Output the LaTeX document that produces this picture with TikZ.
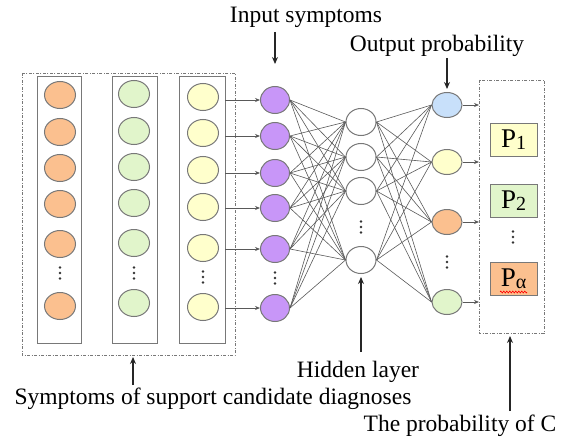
\documentclass[tikz,border=0pt]{standalone}
\usepackage{fontspec}
\setmainfont{Liberation Serif}
\usetikzlibrary{shapes.geometric,arrows.meta,decorations.pathmorphing}
\definecolor{corange}{RGB}{251,192,143}
\definecolor{cgreen}{RGB}{225,245,203}
\definecolor{cyellow}{RGB}{255,255,204}
\definecolor{cpurple}{RGB}{200,150,248}
\definecolor{cblue}{RGB}{200,224,250}
\definecolor{cedge}{RGB}{120,120,120}
\begin{document}
\begin{tikzpicture}[x=1pt,y=-1pt,
  cell/.style={ellipse,draw=cedge,line width=1pt,minimum width=31pt,minimum height=27pt,inner sep=0pt},
  colbox/.style={draw=cedge,line width=1pt,fill=white},
  dashbox/.style={draw=cedge,line width=0.8pt,dash pattern=on 3pt off 1.5pt on 1pt off 1.5pt},
  link/.style={draw=black!65,line width=0.6pt},
  feed/.style={draw=black!65,line width=0.7pt,-{Stealth[length=5pt,width=4pt]}},
  callout/.style={draw=black!85,line width=1.1pt,-{Stealth[length=7pt,width=6pt]}},
  label/.style={font=\fontsize{23.5}{27}\selectfont,inner sep=0pt},
  pbox/.style={draw=cedge,line width=1pt,minimum width=47pt,minimum height=33pt,inner sep=0pt,font=\fontsize{27}{30}\selectfont},
  dot/.style={fill=black!80,circle,inner sep=0pt,minimum size=2.8pt}
]
\useasboundingbox (0,0) rectangle (561,441);

% outer dashed boxes
\draw[dashbox] (22,73) rectangle (235,355);
\draw[dashbox] (479,80) rectangle (544,333);

% column boxes
\draw[colbox] (37,77) rectangle (81,343);
\draw[colbox] (112,77) rectangle (157,343);
\draw[colbox] (179,77) rectangle (225,343);

% column 1 (orange)
\foreach \y [count=\i] in {95,132,168,204,244,306}
  \node[cell,fill=corange] (a\i) at (60,\y) {};
% column 2 (green)
\foreach \y [count=\i] in {94,131,167,203,243,303}
  \node[cell,fill=cgreen] (b\i) at (134,\y) {};
% column 3 (yellow)
\foreach \y [count=\i] in {97,133,170,207,248,307}
  \node[cell,fill=cyellow] (c\i) at (203,\y) {};

% input layer (purple)
\foreach \y [count=\i] in {100,136,173,208,249,308}
  \node[cell,fill=cpurple,minimum width=29pt] (p\i) at (275,\y) {};
% hidden layer
\foreach \y [count=\i] in {122,157,191,260}
  \node[cell,fill=white,minimum width=30pt] (h\i) at (361,\y) {};
% output layer
\node[cell,fill=cblue,minimum width=30pt,minimum height=25pt] (o1) at (447,105) {};
\node[cell,fill=cyellow,minimum width=30pt,minimum height=25pt] (o2) at (447,162) {};
\node[cell,fill=corange,minimum width=30pt,minimum height=25pt] (o3) at (447,222) {};
\node[cell,fill=cgreen,minimum width=30pt,minimum height=25pt] (o4) at (447,302) {};

% dots
\foreach \x/\y in {60/273,134/273,203/277,275/278,361/227,447/262,513/237}{
  \node[dot] at (\x,\y-5.5) {};
  \node[dot] at (\x,\y) {};
  \node[dot] at (\x,\y+5.5) {};
}

% feeds from column box into input layer
\foreach \y [count=\i] in {100,136,173,208,249,308}{
  \coordinate (s\i) at (225,\y);
  \draw[feed] (s\i) -- (p\i.west);
}

% full connections
\foreach \i in {1,...,6}
  \foreach \j in {1,...,4}
    \draw[link] (p\i.east) -- (h\j.west);
\foreach \j in {1,...,4}
  \foreach \k in {1,...,4}
    \draw[link] (h\j.east) -- (o\k.west);

% output feeds into probability box
\foreach \y [count=\k] in {105,162,222,302}{
  \coordinate (t\k) at (479,\y);
  \draw[feed] (o\k.east) -- (t\k);
}

% probability boxes
\node[pbox,fill=cyellow] (P1) at (513.5,139.5) {P\raisebox{-0.15ex}{\fontsize{20}{22}\selectfont 1}};
\node[pbox,fill=cgreen] (P2) at (513.5,200.5) {P\raisebox{-0.15ex}{\fontsize{20}{22}\selectfont 2}};
\node[pbox,fill=corange] (Pa) at (513.5,279) {P\raisebox{-0.15ex}{\fontsize{20}{22}\selectfont α}};
\draw[red,line width=0.6pt,decorate,decoration={zigzag,amplitude=1pt,segment length=3pt}] (500,292) -- (527,292);

% labels
\node[label] (lin) at (306,17) {Input symptoms};
\node[label] (lout) at (437,46) {Output probability};
\node[label] (lhid) at (358,372) {Hidden layer};
\node[label] (lsym) at (213,399) {Symptoms of support candidate diagnoses};
\node[label] (lprob) at (460,426) {The probability of C};

\coordinate (ain) at (275,32);
\coordinate (ainE) at (275,64);
\draw[callout] (ain) -- (ainE);
\coordinate (aout) at (447,58);
\coordinate (aoutE) at (447,89);
\draw[callout] (aout) -- (aoutE);
\coordinate (ahid) at (361,352);
\coordinate (ahidE) at (361,277);
\draw[callout] (ahid) -- (ahidE);
\coordinate (asym) at (133,385);
\coordinate (asymE) at (133,357);
\draw[callout] (asym) -- (asymE);
\coordinate (aprob) at (510,411);
\coordinate (aprobE) at (510,336);
\draw[callout] (aprob) -- (aprobE);
\end{tikzpicture}
\end{document}
